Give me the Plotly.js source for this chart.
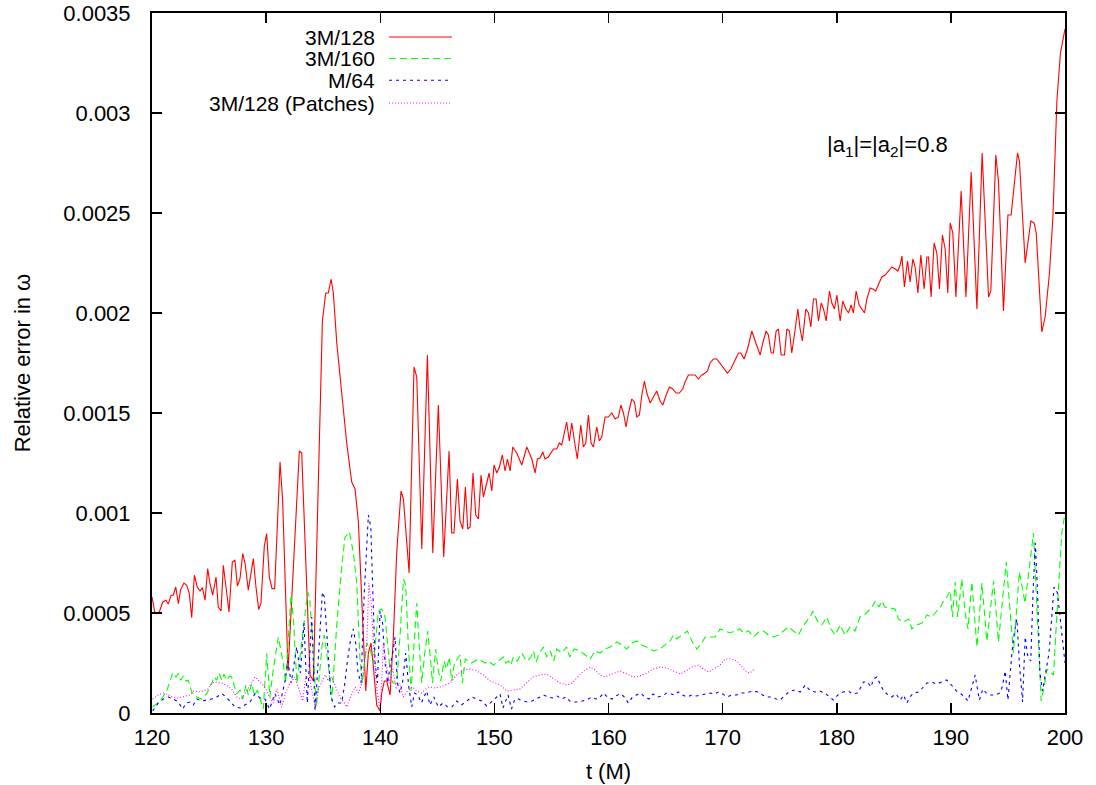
<!DOCTYPE html>
<html><head><meta charset="utf-8">
<script src="https://cdn.plot.ly/plotly-3.0.1.min.js"></script>
<style>html,body{margin:0;padding:0;background:#fff}#chart{width:1096px;height:785px}</style>
</head><body><div id="chart"></div>
<script>
// 3M/128 (red, solid)
const t_3M128 = [120.0,120.26,120.64,120.94,121.23,121.43,121.67,121.87,122.08,122.31,122.51,122.8,123.04,123.27,123.48,123.71,123.97,124.21,124.41,124.65,124.88,125.08,125.32,125.61,125.81,126.05,126.25,126.49,126.75,127.04,127.27,127.48,127.71,127.95,128.15,128.44,128.68,128.88,129.11,129.35,129.55,129.84,130.05,130.28,130.52,130.75,131.22,131.45,131.92,132.91,133.12,133.85,134.14,134.93,135.22,135.45,135.69,135.89,136.19,136.62,137.06,137.5,137.79,138.08,138.38,138.73,138.96,139.19,139.4,139.69,139.98,140.13,140.36,140.57,140.86,141.15,141.44,141.82,142.03,142.53,142.96,143.2,143.64,144.13,144.6,145.09,145.56,146.03,146.26,146.46,146.76,146.99,147.23,147.46,147.67,147.87,148.13,148.37,148.6,148.83,149.04,149.33,149.54,149.77,149.97,150.21,150.44,150.7,150.94,151.14,151.38,151.61,151.96,152.4,152.84,153.28,153.57,153.77,154.0,154.24,154.44,154.73,155.17,155.46,155.69,155.9,156.1,156.33,156.57,156.78,157.07,157.27,157.57,157.8,158.01,158.24,158.47,158.68,158.97,159.2,159.41,159.7,159.99,160.29,160.58,160.87,161.08,161.31,161.54,161.75,162.04,162.27,162.48,162.71,162.92,163.15,163.36,163.65,163.94,164.23,164.52,164.76,165.05,165.34,165.63,165.92,166.21,166.5,166.71,167.0,167.3,167.59,167.88,168.18,168.47,168.67,168.9,169.19,169.49,169.78,170.07,170.42,170.72,171.1,171.39,171.6,171.88,172.18,172.56,172.91,173.29,173.52,173.81,174.01,174.25,174.45,174.69,174.89,175.13,175.42,175.63,175.86,176.06,176.29,176.59,176.79,176.99,177.29,177.52,177.73,177.96,178.19,178.4,178.64,178.84,179.07,179.36,179.57,179.8,180.01,180.3,180.53,180.8,181.03,181.26,181.46,181.7,181.96,182.2,182.43,182.64,182.93,183.16,183.42,183.71,183.95,184.24,184.53,184.83,185.12,185.35,185.56,185.71,185.93,186.2,186.43,186.67,186.87,187.11,187.37,187.66,187.9,188.04,188.27,188.53,188.77,189.0,189.26,189.5,189.73,189.94,190.17,190.44,190.9,191.32,191.78,192.28,192.74,193.3,193.5,193.94,194.17,194.61,195.0,195.28,195.84,196.01,196.51,197.01,197.3,197.48,197.97,198.26,198.64,198.94,199.29,199.6,200.0];
const v_3M128 = [5.8e-4,5.0e-4,5.05e-4,5.55e-4,5.64e-4,5.44e-4,5.89e-4,5.89e-4,6.3e-4,5.47e-4,6.17e-4,6.5e-4,6.39e-4,5.97e-4,4.77e-4,6.89e-4,6.3e-4,6.1e-4,6.27e-4,5.64e-4,7.22e-4,6.47e-4,5.89e-4,6.8e-4,5.3e-4,5.1e-4,7.39e-4,6.22e-4,5.05e-4,7.55e-4,7.64e-4,6.35e-4,6.72e-4,7.97e-4,7.5e-4,6.14e-4,7.05e-4,7.72e-4,6.3e-4,5.17e-4,5.5e-4,8.34e-4,8.97e-4,6.8e-4,6.22e-4,6.22e-4,1.255e-3,1.06e-3,2.1e-4,1.31e-3,1.3e-3,1.9e-4,1.6e-4,1.96e-3,2.1e-3,2.1e-3,2.17e-3,2.1e-3,1.85e-3,1.6e-3,1.35e-3,1.155e-3,1.12e-3,9.6e-4,6.0e-4,1.1e-4,3.0e-4,3.5e-4,2.3e-4,4e-5,1e-5,1e-4,1.6e-4,1.6e-4,9e-5,3.8e-4,8.0e-4,1.11e-3,1.07e-3,7.0e-4,1.73e-3,1.68e-3,8.2e-4,1.79e-3,8.0e-4,1.54e-3,7.8e-4,1.31e-3,9.0e-4,9.0e-4,1.17e-3,9.6e-4,9.2e-4,1.13e-3,9.2e-4,9.3e-4,1.2e-3,9.9e-4,9.7e-4,1.19e-3,1.08e-3,1.155e-3,1.2e-3,1.11e-3,1.24e-3,1.2e-3,1.23e-3,1.29e-3,1.21e-3,1.27e-3,1.21e-3,1.33e-3,1.3e-3,1.24e-3,1.33e-3,1.27e-3,1.2e-3,1.27e-3,1.275e-3,1.305e-3,1.27e-3,1.28e-3,1.32e-3,1.32e-3,1.35e-3,1.34e-3,1.39e-3,1.455e-3,1.36e-3,1.45e-3,1.34e-3,1.27e-3,1.44e-3,1.33e-3,1.35e-3,1.49e-3,1.35e-3,1.33e-3,1.43e-3,1.36e-3,1.38e-3,1.48e-3,1.48e-3,1.5e-3,1.47e-3,1.48e-3,1.54e-3,1.5e-3,1.43e-3,1.5e-3,1.57e-3,1.555e-3,1.48e-3,1.49e-3,1.59e-3,1.66e-3,1.6e-3,1.55e-3,1.58e-3,1.61e-3,1.56e-3,1.54e-3,1.59e-3,1.63e-3,1.62e-3,1.6e-3,1.6e-3,1.62e-3,1.655e-3,1.69e-3,1.69e-3,1.69e-3,1.67e-3,1.69e-3,1.7e-3,1.71e-3,1.75e-3,1.77e-3,1.77e-3,1.75e-3,1.73e-3,1.7e-3,1.72e-3,1.77e-3,1.8e-3,1.8e-3,1.77e-3,1.82e-3,1.91e-3,1.85e-3,1.79e-3,1.85e-3,1.91e-3,1.89e-3,1.8e-3,1.8e-3,1.91e-3,1.92e-3,1.79e-3,1.79e-3,1.92e-3,1.91e-3,1.8e-3,1.89e-3,2.02e-3,1.92e-3,1.86e-3,2.02e-3,2.0e-3,1.93e-3,2.07e-3,2.07e-3,1.96e-3,2.05e-3,2.02e-3,1.96e-3,2.11e-3,2.05e-3,2.02e-3,2.09e-3,1.96e-3,2.06e-3,2.02e-3,2.0e-3,2.04e-3,2.0e-3,2.11e-3,2.04e-3,2.02e-3,2.0e-3,2.07e-3,2.125e-3,2.12e-3,2.11e-3,2.15e-3,2.18e-3,2.19e-3,2.21e-3,2.23e-3,2.22e-3,2.21e-3,2.24e-3,2.285e-3,2.13e-3,2.26e-3,2.155e-3,2.27e-3,2.23e-3,2.1e-3,2.29e-3,2.12e-3,2.28e-3,2.28e-3,2.08e-3,2.35e-3,2.3e-3,2.12e-3,2.39e-3,2.32e-3,2.1e-3,2.45e-3,2.4e-3,2.08e-3,2.61e-3,2.08e-3,2.705e-3,2.02e-3,2.8e-3,2.08e-3,2.11e-3,2.79e-3,2.66e-3,2.01e-3,2.49e-3,2.49e-3,2.8e-3,2.76e-3,2.25e-3,2.46e-3,2.45e-3,2.4e-3,1.905e-3,1.98e-3,2.2e-3,2.48e-3,3.06e-3,3.3e-3,3.42e-3];

// 3M/160 (green, dashed)
const t_3M160 = [120.06,120.7,121.29,121.81,122.1,122.31,122.51,122.74,122.98,123.18,123.48,123.92,124.36,124.79,125.23,125.43,125.67,125.87,126.11,126.31,126.55,126.78,126.98,127.19,127.42,127.71,127.95,128.24,128.44,128.74,128.98,129.23,129.52,129.75,130.05,130.33,130.63,130.93,131.07,131.5,131.7,132.18,132.38,132.7,133.0,133.3,133.64,133.8,134.1,134.4,134.93,135.1,135.51,135.75,136.2,136.62,136.91,137.3,137.65,137.94,138.23,138.43,138.82,139.1,139.4,139.84,140.13,140.42,140.8,141.1,141.44,141.75,142.03,142.23,142.45,142.7,142.95,143.2,143.4,143.64,143.9,144.16,144.35,144.58,144.86,145.09,145.3,145.59,145.8,146.06,146.26,146.5,146.99,147.2,147.45,147.7,148.0,148.3,148.6,148.9,149.2,149.48,149.92,150.35,150.79,151.0,151.23,151.45,151.67,152.0,152.4,152.7,152.9,153.2,153.42,153.65,153.9,154.3,154.59,154.9,155.2,155.46,155.9,156.33,156.6,157.0,157.51,157.95,158.39,158.83,159.27,159.7,160.14,160.73,161.17,161.6,162.04,162.48,162.92,163.36,163.94,164.5,164.95,165.4,165.69,165.98,166.42,166.92,167.3,167.74,168.18,168.47,168.9,169.34,169.78,170.22,170.65,171.1,171.53,171.82,172.26,172.7,173.14,173.58,174.0,174.45,174.89,175.33,175.77,176.2,176.64,177.0,177.35,177.76,177.9,178.3,178.69,179.13,179.5,179.86,180.3,180.73,181.16,181.6,182.04,182.4,182.77,183.1,183.37,183.7,183.95,184.2,184.68,185.12,185.4,185.85,186.3,186.58,187.0,187.46,187.9,188.33,188.77,189.1,189.35,189.65,189.94,190.14,190.38,190.6,190.96,191.25,191.5,191.84,192.28,192.72,193.15,193.74,194.17,194.85,195.48,196.0,196.5,197.24,197.91,198.2,198.41,198.99,199.3,199.72,200.0];
const v_3M160 = [3e-5,6e-5,1.1e-4,2.0e-4,1.8e-4,1.97e-4,1.64e-4,1.84e-4,1.6e-4,1.64e-4,1.05e-4,8e-5,7e-5,9.7e-5,1.47e-4,1.8e-4,1.64e-4,2.0e-4,1.64e-4,1.94e-4,1.64e-4,1.84e-4,1.8e-4,1.4e-4,9.7e-5,1.14e-4,7e-5,1.4e-4,8.9e-5,1.47e-4,8.9e-5,1.14e-4,5.5e-5,2e-5,2.97e-4,8e-5,2.2e-4,3.3e-4,3.8e-4,2.5e-4,1.5e-4,5.9e-4,4.8e-4,1.5e-4,3.0e-4,4.5e-4,6.05e-4,5.8e-4,3.5e-4,3e-5,3.5e-4,3.9e-4,2.1e-4,6e-5,4.5e-4,7.3e-4,8.8e-4,9.05e-4,8.0e-4,6.5e-4,2.6e-4,1.5e-4,3.5e-4,3.2e-4,2.5e-4,5.1e-4,5.2e-4,4.8e-4,2.5e-4,1.5e-4,1.5e-4,4e-4,6.7e-4,6.4e-4,3.5e-4,1.1e-4,3.5e-4,5.5e-4,3.5e-4,1.5e-4,3.0e-4,4.1e-4,3e-4,1.5e-4,3.2e-4,2.1e-4,1.6e-4,2.6e-4,2.2e-4,2.8e-4,1.6e-4,2.5e-4,2.9e-4,1.5e-4,2.7e-4,2.6e-4,2.5e-4,2.6e-4,2.7e-4,2.6e-4,2.5e-4,2.6e-4,2.4e-4,2.6e-4,2.8e-4,2.5e-4,2.6e-4,2.4e-4,2.8e-4,2.6e-4,3.0e-4,2.7e-4,2.6e-4,2.8e-4,3.1e-4,2.55e-4,2.95e-4,3.3e-4,2.8e-4,3.1e-4,2.6e-4,3.2e-4,3.0e-4,3.3e-4,2.8e-4,3.2e-4,3.1e-4,2.9e-4,2.7e-4,3.1e-4,3.0e-4,3.2e-4,3.3e-4,3.55e-4,3.4e-4,3.2e-4,3.5e-4,3.6e-4,3.4e-4,3.3e-4,3.1e-4,3.2e-4,3.4e-4,3.6e-4,3.9e-4,3.7e-4,3.9e-4,4.1e-4,3.6e-4,3.2e-4,3.5e-4,3.8e-4,3.8e-4,3.8e-4,4.2e-4,4.1e-4,4.0e-4,4.1e-4,4.2e-4,4.0e-4,4.1e-4,3.8e-4,4.05e-4,4.1e-4,3.9e-4,3.8e-4,3.9e-4,4.1e-4,4.3e-4,4.1e-4,3.9e-4,4.3e-4,4.6e-4,4.9e-4,5.1e-4,4.6e-4,4.4e-4,4.8e-4,4.2e-4,3.9e-4,4.4e-4,3.9e-4,4.3e-4,4.1e-4,4.8e-4,4.9e-4,5.1e-4,5.3e-4,5.6e-4,5.3e-4,5.6e-4,5.3e-4,5.25e-4,5.2e-4,4.7e-4,4.55e-4,4.7e-4,4.2e-4,4.4e-4,4.5e-4,4.9e-4,4.8e-4,5.1e-4,5.3e-4,5.6e-4,5.8e-4,6.1e-4,4.8e-4,6.55e-4,4.8e-4,6.7e-4,5.0e-4,4.2e-4,6.55e-4,3.3e-4,6.5e-4,3.6e-4,6.6e-4,3.55e-4,7.55e-4,3.0e-4,7.05e-4,5.5e-4,9.0e-4,6e-5,1.4e-4,2.2e-4,1.9e-4,5e-4,9.0e-4,1.0e-3];

// M/64 (blue, short dashes)
const t_M64 = [120.06,120.55,120.99,121.43,121.87,122.3,122.69,123.0,123.33,123.62,123.92,124.36,124.79,125.23,125.67,126.11,126.49,126.84,127.27,127.71,128.15,128.59,129.03,129.47,129.9,130.3,130.77,131.2,131.66,131.9,132.2,132.68,133.0,133.32,133.61,134.0,134.29,134.6,134.93,135.1,135.4,135.69,136.0,136.3,136.62,136.9,137.1,137.35,137.64,137.85,138.05,138.32,138.6,138.96,139.17,139.35,139.55,139.75,139.98,140.2,140.42,140.65,140.9,141.1,141.3,141.5,141.73,141.95,142.23,142.5,142.76,143.0,143.3,143.6,144.07,144.35,144.7,145.09,145.5,145.9,146.27,146.7,147.1,147.6,148.02,148.45,148.9,149.33,149.77,150.21,150.5,150.75,151.2,151.5,151.8,152.1,152.5,152.9,153.3,153.7,154.0,154.3,154.7,155.1,155.5,155.9,156.3,156.6,156.92,157.3,157.7,158.1,158.5,158.9,159.2,159.56,159.9,160.3,160.65,161.03,161.4,161.74,162.1,162.45,162.8,163.2,163.55,163.9,164.3,164.7,165.1,165.5,165.8,166.12,166.5,166.9,167.3,167.7,168.1,168.5,168.9,169.3,169.63,170.0,170.4,170.8,171.2,171.6,172.0,172.35,172.7,173.1,173.5,173.9,174.3,174.7,175.04,175.5,175.92,176.35,176.8,177.24,177.7,178.1,178.5,178.95,179.42,179.7,180.1,180.55,181.0,181.4,181.85,182.34,182.7,183.0,183.22,183.51,183.8,184.1,184.4,184.8,185.2,185.56,185.85,186.15,186.4,186.75,187.2,187.6,187.9,188.33,188.75,189.2,189.64,190.05,190.5,190.9,191.2,191.5,191.8,192.13,192.3,192.5,192.8,193.1,193.5,193.9,194.3,194.5,194.76,195.0,195.35,195.55,195.79,196.0,196.28,196.51,196.75,197.0,197.2,197.4,197.6,197.8,198.03,198.3,198.6,198.8,199.04,199.34,199.72,200.0];
const v_M64 = [1e-5,5e-5,7e-5,8e-5,7e-5,5.5e-5,2e-5,5e-5,5.5e-5,4e-5,7e-5,6e-5,6.5e-5,7e-5,8e-5,9.7e-5,8e-5,5.5e-5,3e-5,2.5e-5,4e-5,5.5e-5,9.7e-5,7.5e-5,7e-5,2e-5,9.7e-5,4e-5,1.6e-4,2.6e-4,1.5e-4,3.3e-4,2.0e-4,4.5e-4,5e-5,4.8e-4,1e-5,3.0e-4,6.05e-4,5.8e-4,3.5e-4,8e-5,3e-5,5e-5,5e-5,1.5e-4,2.5e-4,3.5e-4,4.2e-4,3.5e-4,2.0e-4,1.5e-4,6.0e-4,9.9e-4,9.3e-4,6.0e-4,2.5e-4,1.5e-4,5.1e-4,4.5e-4,2.5e-4,1.5e-4,2.5e-4,3.0e-4,3.8e-4,1.5e-4,1e-4,1.5e-4,3e-4,1.3e-4,3e-5,1.0e-4,9e-5,5e-5,1.1e-4,4e-5,8e-5,3e-5,5e-5,3e-5,3e-5,6e-5,4e-5,6e-5,8e-5,7e-5,6e-5,3.5e-5,6e-5,8e-5,9.5e-5,2.5e-5,9e-5,2e-5,7e-5,7e-5,6e-5,5.5e-5,6e-5,7e-5,8e-5,9e-5,8e-5,7.5e-5,8.5e-5,7e-5,8e-5,6e-5,5.5e-5,5.5e-5,6e-5,6.5e-5,8e-5,7e-5,7.5e-5,1e-4,8e-5,7e-5,8.5e-5,9.7e-5,8e-5,5e-5,8e-5,9e-5,1.0e-4,8e-5,7e-5,9.5e-5,8e-5,8.5e-5,1.0e-4,9.5e-5,9e-5,1.05e-4,9e-5,8e-5,9e-5,8.5e-5,9e-5,9.5e-5,1.0e-4,9.5e-5,1.05e-4,9.5e-5,8e-5,9e-5,9e-5,1.0e-4,1.0e-4,1.05e-4,1.1e-4,1.05e-4,9e-5,8e-5,8e-5,7e-5,6.5e-5,9e-5,1.1e-4,1.15e-4,1.05e-4,1.4e-4,1.1e-4,1.05e-4,1.1e-4,1.0e-4,8e-5,6.5e-5,9e-5,1.05e-4,1.1e-4,9.5e-5,1.0e-4,1.55e-4,1.55e-4,1.3e-4,1.7e-4,1.8e-4,1.45e-4,1.1e-4,9.5e-5,8e-5,9.5e-5,6.5e-5,9e-5,5e-5,8e-5,1.0e-4,1.05e-4,1.3e-4,1.5e-4,1.55e-4,1.45e-4,1.55e-4,1.65e-4,1.4e-4,1.1e-4,9.5e-5,8e-5,6e-5,1.2e-4,1.9e-4,1.3e-4,6.5e-5,1.2e-4,1.0e-4,9e-5,9e-5,1.0e-4,1.3e-4,2.1e-4,6.5e-5,3.0e-4,4e-4,4.7e-4,2.5e-4,5.5e-5,3.8e-4,2.8e-4,2.6e-4,6.0e-4,8.5e-4,6.0e-4,2.0e-4,1.1e-4,2.0e-4,3.0e-4,4.5e-4,6.3e-4,6.0e-4,4.0e-4,2.5e-4];

// 3M/128 (Patches) (magenta, dotted)
const t_patch = [120.06,120.55,121.0,121.43,121.87,122.3,122.74,123.33,123.62,124.1,124.5,124.93,125.23,125.67,126.1,126.49,126.98,127.42,127.86,128.3,128.74,129.03,129.47,129.9,130.2,130.63,130.95,131.36,131.7,132.1,132.53,132.9,133.2,133.47,133.8,134.05,134.29,134.6,134.9,135.2,135.45,135.75,136.1,136.45,136.75,137.06,137.4,137.79,138.1,138.4,138.6,138.82,139.0,139.2,139.45,139.7,140.0,140.28,140.5,140.8,141.1,141.4,141.7,142.0,142.4,142.8,143.2,143.6,144.0,144.36,144.8,145.24,145.7,146.12,146.7,147.28,147.87,148.45,149.04,149.62,150.1,150.5,151.09,151.6,152.25,152.8,153.4,154.0,154.59,155.2,155.75,156.34,156.8,157.3,157.8,158.39,158.83,159.27,159.7,160.3,161.02,161.6,162.18,162.76,163.35,163.94,164.52,165.1,165.69,166.3,166.8,167.3,167.88,168.3,168.76,169.2,169.78,170.22,170.8,171.24,171.7,172.11,172.4,172.76];
const v_patch = [7e-5,9e-5,1e-4,9e-5,8e-5,7.5e-5,8e-5,9e-5,1.1e-4,1.05e-4,1.1e-4,1.2e-4,1.5e-4,1.55e-4,1.5e-4,1.4e-4,1.2e-4,8e-5,7e-5,1.1e-4,1.5e-4,1.8e-4,1.55e-4,1.3e-4,9e-5,5e-5,1.2e-4,3e-5,1.0e-4,1.5e-4,1.8e-4,1.1e-4,6e-5,1.8e-4,1.8e-4,1.0e-4,3e-5,1.2e-4,1.6e-4,1.9e-4,1.6e-4,1.8e-4,1.3e-4,8e-5,6e-5,3e-5,8e-5,1.3e-4,1.0e-4,1.5e-4,2.5e-4,3.5e-4,6.5e-4,5.5e-4,3.0e-4,1.2e-4,1e-5,3.5e-4,2.5e-4,1.5e-4,2.2e-4,1.2e-4,1.5e-4,8e-5,1.1e-4,1.3e-4,1.1e-4,1.0e-4,1.2e-4,1.3e-4,1.25e-4,1.3e-4,1.4e-4,1.5e-4,1.9e-4,2.15e-4,2.2e-4,2.1e-4,1.9e-4,1.6e-4,1.5e-4,1.4e-4,1.1e-4,1.15e-4,1.2e-4,1.5e-4,1.8e-4,1.9e-4,1.95e-4,1.7e-4,1.5e-4,1.4e-4,1.5e-4,1.8e-4,2.1e-4,2.3e-4,2.15e-4,1.9e-4,1.8e-4,1.95e-4,2.1e-4,1.95e-4,1.8e-4,1.85e-4,2.0e-4,2.2e-4,2.3e-4,2.25e-4,2.1e-4,1.95e-4,2.1e-4,2.3e-4,2.4e-4,2.2e-4,2.05e-4,2.2e-4,2.4e-4,2.7e-4,2.7e-4,2.6e-4,2.3e-4,2.05e-4,2.0e-4,2.2e-4];

const seriesNames = ['3M/128','3M/160','M/64','3M/128 (Patches)'];
const seriesColors = ['#ff0000','#00ff00','#0000ff','#ff00ff'];
const seriesDash = ['solid','7px,4px','3px,4px','1px,2px'];
const yTickVals = [0,0.0005,0.001,0.0015,0.002,0.0025,0.003,0.0035];
const yTickText = ['0','0.0005','0.001','0.0015','0.002','0.0025','0.003','0.0035'];
const xTickVals = [120,130,140,150,160,170,180,190,200];

const xs = [t_3M128,t_3M160,t_M64,t_patch];
const ys = [v_3M128,v_3M160,v_M64,v_patch];
const traces = xs.map((x,i)=>({x:x,y:ys[i],type:'scatter',mode:'lines',name:seriesNames[i],
  line:{color:seriesColors[i],width:1.1,dash:seriesDash[i]},showlegend:false}));

const FONT = 'Liberation Sans, Arial, Helvetica, sans-serif';
const FS = 22;
// gnuplot-style key: right-aligned text with sample line to the right
const legTextX = 0.2465, legLineX0 = 0.2596, legLineX1 = 0.3286;
const legRowY = [0.9657,0.9349,0.9039,0.8714];
const annotations = seriesNames.map((n,i)=>({xref:'paper',yref:'paper',x:legTextX,y:legRowY[i],
  text:n,showarrow:false,xanchor:'right',yanchor:'middle',font:{family:FONT,size:21,color:'#000'}}));
annotations.push({xref:'paper',yref:'paper',x:0.737,y:0.8096,xanchor:'left',yanchor:'middle',showarrow:false,
  text:'|a<sub>1</sub>|=|a<sub>2</sub>|=0.8',font:{family:FONT,size:FS,color:'#000'}});
const shapes = seriesNames.map((n,i)=>({type:'line',xref:'paper',yref:'paper',x0:legLineX0,x1:legLineX1,
  y0:legRowY[i],y1:legRowY[i],line:{color:seriesColors[i],width:1.1,dash:seriesDash[i]}}));

const axisCommon = {showgrid:false,zeroline:false,showline:true,linecolor:'#000',linewidth:2,mirror:'ticks',
  ticks:'inside',ticklen:10,tickwidth:1.5,tickcolor:'#000',tickfont:{family:FONT,size:FS,color:'#000'}};

const layout = {
  width:1096,height:785,paper_bgcolor:'#fff',plot_bgcolor:'#fff',
  margin:{l:152,r:31,t:13,b:72},
  font:{family:FONT,color:'#000'},
  xaxis:Object.assign({},axisCommon,{range:[120,200],tickvals:xTickVals,ticklabelstandoff:4,
    title:{text:'t (M)',font:{family:FONT,size:FS,color:'#000'},standoff:14}}),
  yaxis:Object.assign({},axisCommon,{range:[0,0.0035],tickvals:yTickVals,ticktext:yTickText,ticklabelstandoff:15,
    title:{text:'Relative error in ω',font:{family:FONT,size:FS,color:'#000'},standoff:27}}),
  annotations:annotations,shapes:shapes,showlegend:false
};
Plotly.newPlot('chart',traces,layout,{displayModeBar:false,staticPlot:true});
</script></body></html>
